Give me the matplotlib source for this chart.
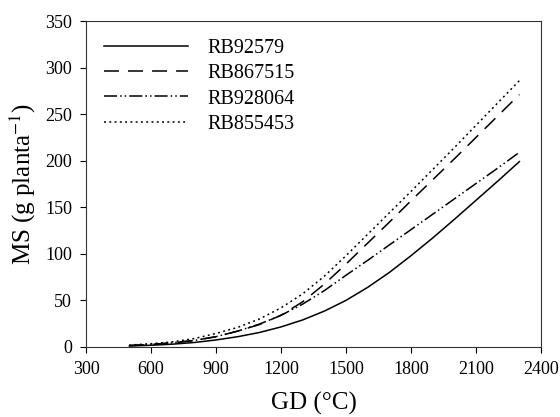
import matplotlib
matplotlib.use("Agg")
import matplotlib.pyplot as plt

plt.rcParams['font.family'] = ['Liberation Serif', 'DejaVu Serif']
plt.rcParams['mathtext.fontset'] = 'stix'
plt.rcParams['lines.scale_dashes'] = False

# degree-days (GD) where the curves were read
gd = [500, 600, 700, 800, 900, 1000, 1100, 1200, 1300, 1400, 1500,
      1600, 1700, 1800, 1900, 2000, 2100, 2200, 2300]

# dry matter per plant
rb92579 = [1, 1.8, 3, 4.8, 7.5, 11, 15.5, 21.5, 29, 38.5, 50,
           64, 80, 98, 117, 137, 157.5, 178, 199]
rb867515 = [1.5, 2.6, 4.3, 7, 11, 17, 24, 34, 48.5, 67.5, 89,
            111.5, 134, 157, 179.5, 202, 225, 248, 271]
rb928064 = [1.5, 2.8, 4.5, 7, 11, 17, 24.5, 34, 46, 60.5, 77,
            93, 109.5, 126, 142.5, 159, 175.5, 192, 209]
rb855453 = [2, 3.5, 5.5, 9, 14.5, 21, 30, 42, 57, 76, 98,
            121, 144, 167, 190.5, 214, 238, 262, 286]

xticks = list(range(300, 2401, 300))
yticks = list(range(0, 351, 50))

fig = plt.figure(figsize=(5.6, 4.17), dpi=100)
ax = fig.add_axes([0.1536, 0.168, 0.8125, 0.7816])

lw = 1.1
ax.plot(gd, rb92579, color='black', lw=lw, label='RB92579')
ax.plot(gd, rb867515, color='black', lw=lw, dashes=(10.8, 6.5), label='RB867515')
ax.plot(gd, rb928064, color='black', lw=lw,
        dashes=(9.4, 2.2, 1.1, 2.2, 1.1, 2.2), label='RB928064')
ax.plot(gd, rb855453, color='black', lw=lw, dashes=(1.4, 2.4), label='RB855453')

ax.set_xlim(300, 2400)
ax.set_ylim(0, 350)
ax.set_xticks(xticks)
ax.set_yticks(yticks)
ax.tick_params(direction='out', length=4, width=0.8, labelsize=13,
               top=False, right=False, pad=6)
for s in ax.spines.values():
    s.set_linewidth(0.8)
    s.set_color('#333333')

ax.set_xlabel('GD (°C)', fontsize=18, labelpad=10)
ax.set_ylabel('MS (g planta$^{-1}$)', fontsize=18, labelpad=5)

ax.legend(loc='upper left', frameon=False, fontsize=14.5, handlelength=4.17,
          handletextpad=0.95, labelspacing=0.3, borderpad=0.4,
          borderaxespad=0.5)

fig.savefig('out.png', dpi=100)
